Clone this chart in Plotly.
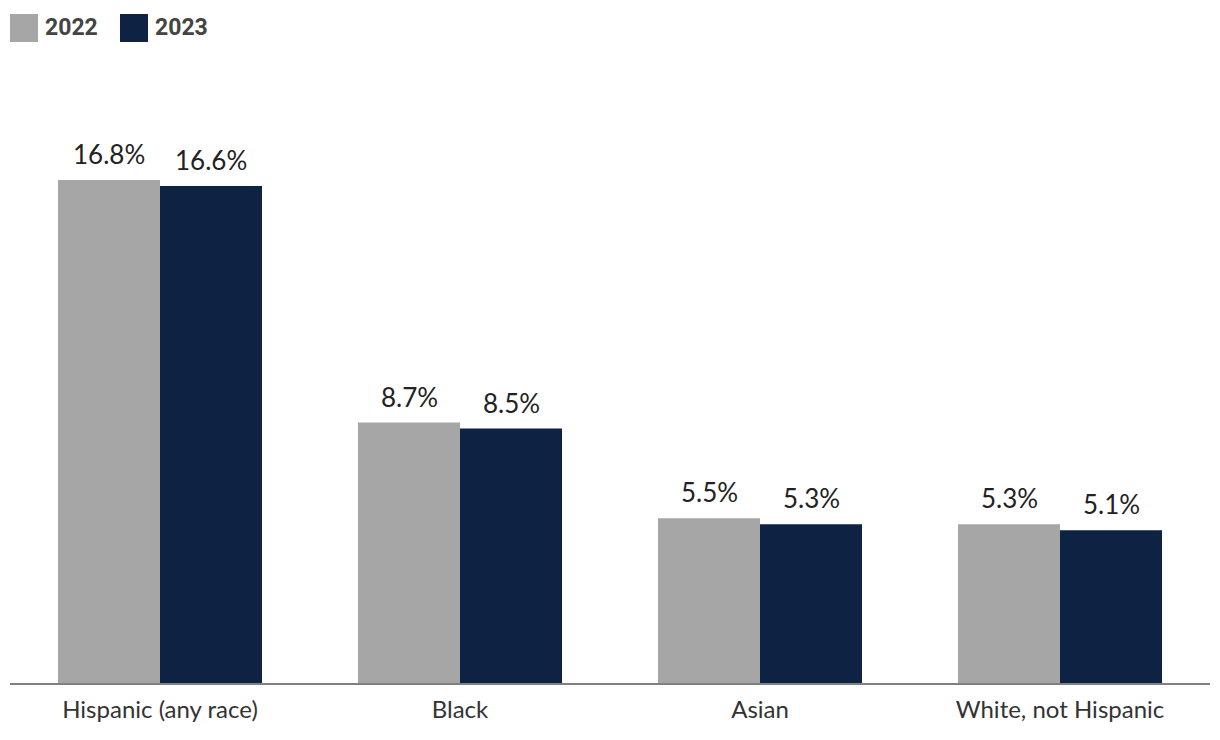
import plotly.graph_objects as go

categories = ["Hispanic (any race)", "Black", "Asian", "White, not Hispanic"]
values_2022 = [16.8, 8.7, 5.5, 5.3]
values_2023 = [16.6, 8.5, 5.3, 5.1]
series_names = ["2022", "2023"]
colors = ["#a6a6a6", "#0e2244"]

W, H = 1220, 740
ml, mr, mt, mb = 10, 10, 80, 57

fig = go.Figure()
for name, vals, col in zip(series_names, [values_2022, values_2023], colors):
    fig.add_trace(go.Bar(
        x=categories, y=vals, name=name, marker=dict(color=col, line=dict(width=0)),
        showlegend=False,
    ))

# value labels above bars
for vals, shift in zip([values_2022, values_2023], [-51, 51]):
    for c, v in zip(categories, vals):
        fig.add_annotation(x=c, y=v, text=f"{v:.1f}%", showarrow=False,
                           xshift=shift, yshift=8, yanchor="bottom",
                           font=dict(family="Lato", size=26, color="#222222"))

# manual legend (pixel-based in paper coords)
pw = W - ml - mr
ph = H - mt - mb
def px(x):
    return (x - ml) / pw
def py(y):
    return (H - mb - y) / ph

legend_x = [10, 120]
for lx, name, col in zip(legend_x, series_names, colors):
    fig.add_shape(type="rect", xref="paper", yref="paper",
                  x0=px(lx), x1=px(lx + 28), y0=py(42), y1=py(14),
                  fillcolor=col, line=dict(width=0))
    fig.add_annotation(xref="paper", yref="paper", x=px(lx + 33), y=py(28),
                       text="<b>" + name + "</b>", showarrow=False,
                       xanchor="left", yanchor="middle",
                       font=dict(family="Roboto", size=23, color="#444444"))

fig.update_layout(
    width=W, height=H,
    margin=dict(l=ml, r=mr, t=mt, b=mb),
    paper_bgcolor="white", plot_bgcolor="white",
    barmode="group", bargap=0.32, bargroupgap=0,
    font=dict(family="Lato", color="#333333"),
    xaxis=dict(showline=True, linecolor="#808080", linewidth=2, ticks="",
               tickfont=dict(family="Lato", size=24, color="#333333"),
               ticklabelstandoff=4,
               showgrid=False, zeroline=False, fixedrange=True),
    yaxis=dict(range=[0, 20.14], visible=False, showgrid=False, zeroline=False),
)

fig.write_html("out.html")
